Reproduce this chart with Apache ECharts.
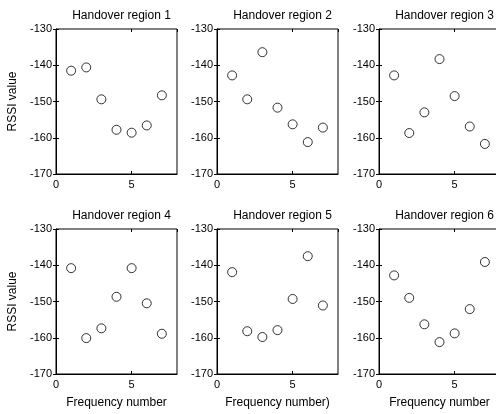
<!DOCTYPE html>
<html>
<head>
<meta charset="utf-8">
<script src="https://cdn.jsdelivr.net/npm/echarts@6/dist/echarts.min.js"></script>
<style>
html,body{margin:0;padding:0;background:#fff;}
#chart{width:496px;height:414px;}
</style>
</head>
<body>
<div id="chart"></div>
<script>
var frequency = [1, 2, 3, 4, 5, 6, 7];
var region1 = [-141.5, -140.6, -149.4, -157.8, -158.6, -156.6, -148.3];
var region2 = [-142.8, -149.4, -136.4, -151.7, -156.3, -161.2, -157.2];
var region3 = [-142.8, -158.7, -153.0, -138.3, -148.5, -156.9, -161.7];
var region4 = [-140.8, -160.1, -157.4, -148.7, -140.8, -150.5, -158.9];
var region5 = [-141.9, -158.2, -159.8, -157.9, -149.3, -137.5, -151.1];
var region6 = [-142.8, -149.0, -156.3, -161.2, -158.8, -152.1, -139.1];
var regions = [region1, region2, region3, region4, region5, region6];
var titles = ['Handover region 1', 'Handover region 2', 'Handover region 3',
              'Handover region 4', 'Handover region 5', 'Handover region 6'];
var xNames = ['', '', '', 'Frequency number', 'Frequency number)', 'Frequency number'];
var yName = 'RSSI value';

var FONT = 'Liberation Sans, Arial, sans-serif';
var lefts = [56, 217, 379];
var tops = [29, 229];
var W = 121, H = 145;

var grids = [], xAxes = [], yAxes = [], series = [], titleArr = [];
for (var i = 0; i < 6; i++) {
  var col = i % 3, row = Math.floor(i / 3);
  grids.push({
    left: lefts[col], top: tops[row], width: W, height: H,
    show: true, borderColor: '#000', borderWidth: 1, backgroundColor: 'transparent',
    containLabel: false, outerBoundsMode: 'none'
  });
  xAxes.push({
    type: 'value', gridIndex: i, min: 0, max: 8, interval: 5, position: 'bottom',
    name: xNames[i], nameLocation: 'middle', nameGap: 23,
    nameTextStyle: {color: '#000', fontSize: 12, fontFamily: FONT},
    axisLine: {show: true, onZero: false, lineStyle: {color: '#000', width: 1}},
    axisTick: {show: true, inside: true, length: 3, lineStyle: {color: '#000'}},
    axisLabel: {color: '#000', fontSize: 11, fontFamily: FONT, margin: 5, showMaxLabel: false},
    splitLine: {show: false}
  });
  yAxes.push({
    type: 'value', gridIndex: i, min: -170, max: -130, interval: 10, position: 'left',
    name: col === 0 ? yName : '', nameLocation: 'middle', nameGap: 37, nameRotate: 90,
    nameTextStyle: {color: '#000', fontSize: 12, fontFamily: FONT},
    axisLine: {show: true, onZero: false, lineStyle: {color: '#000', width: 1}},
    axisTick: {show: true, inside: true, length: 3, lineStyle: {color: '#000'}},
    axisLabel: {color: '#000', fontSize: 11, fontFamily: FONT, margin: 4},
    splitLine: {show: false}
  });
  series.push({
    type: 'scatter', xAxisIndex: i, yAxisIndex: i,
    data: frequency.map(function (f, k) { return [f, regions[i][k]]; }),
    symbol: 'circle', symbolSize: 9,
    itemStyle: {color: '#fff', borderColor: '#000', borderWidth: 1},
    silent: true
  });
  titleArr.push({
    text: titles[i], left: lefts[col] + W / 2, top: tops[row] - 24, textAlign: 'center',
    textStyle: {color: '#000', fontSize: 12, fontWeight: 'normal', fontFamily: FONT}
  });
}
// mirrored tick marks on top and right edges (MATLAB box style)
for (var j = 0; j < 6; j++) {
  xAxes.push({
    type: 'value', gridIndex: j, min: 0, max: 8, interval: 5, position: 'top',
    axisLine: {show: false},
    axisTick: {show: true, inside: true, length: 3, lineStyle: {color: '#000'}},
    axisLabel: {show: false}, splitLine: {show: false}
  });
  yAxes.push({
    type: 'value', gridIndex: j, min: -170, max: -130, interval: 10, position: 'right',
    axisLine: {show: false},
    axisTick: {show: true, inside: true, length: 3, lineStyle: {color: '#000'}},
    axisLabel: {show: false}, splitLine: {show: false}
  });
}

var chart = echarts.init(document.getElementById('chart'));
chart.setOption({
  animation: false,
  backgroundColor: '#fff',
  title: titleArr,
  grid: grids,
  xAxis: xAxes,
  yAxis: yAxes,
  series: series
});
</script>
</body>
</html>
